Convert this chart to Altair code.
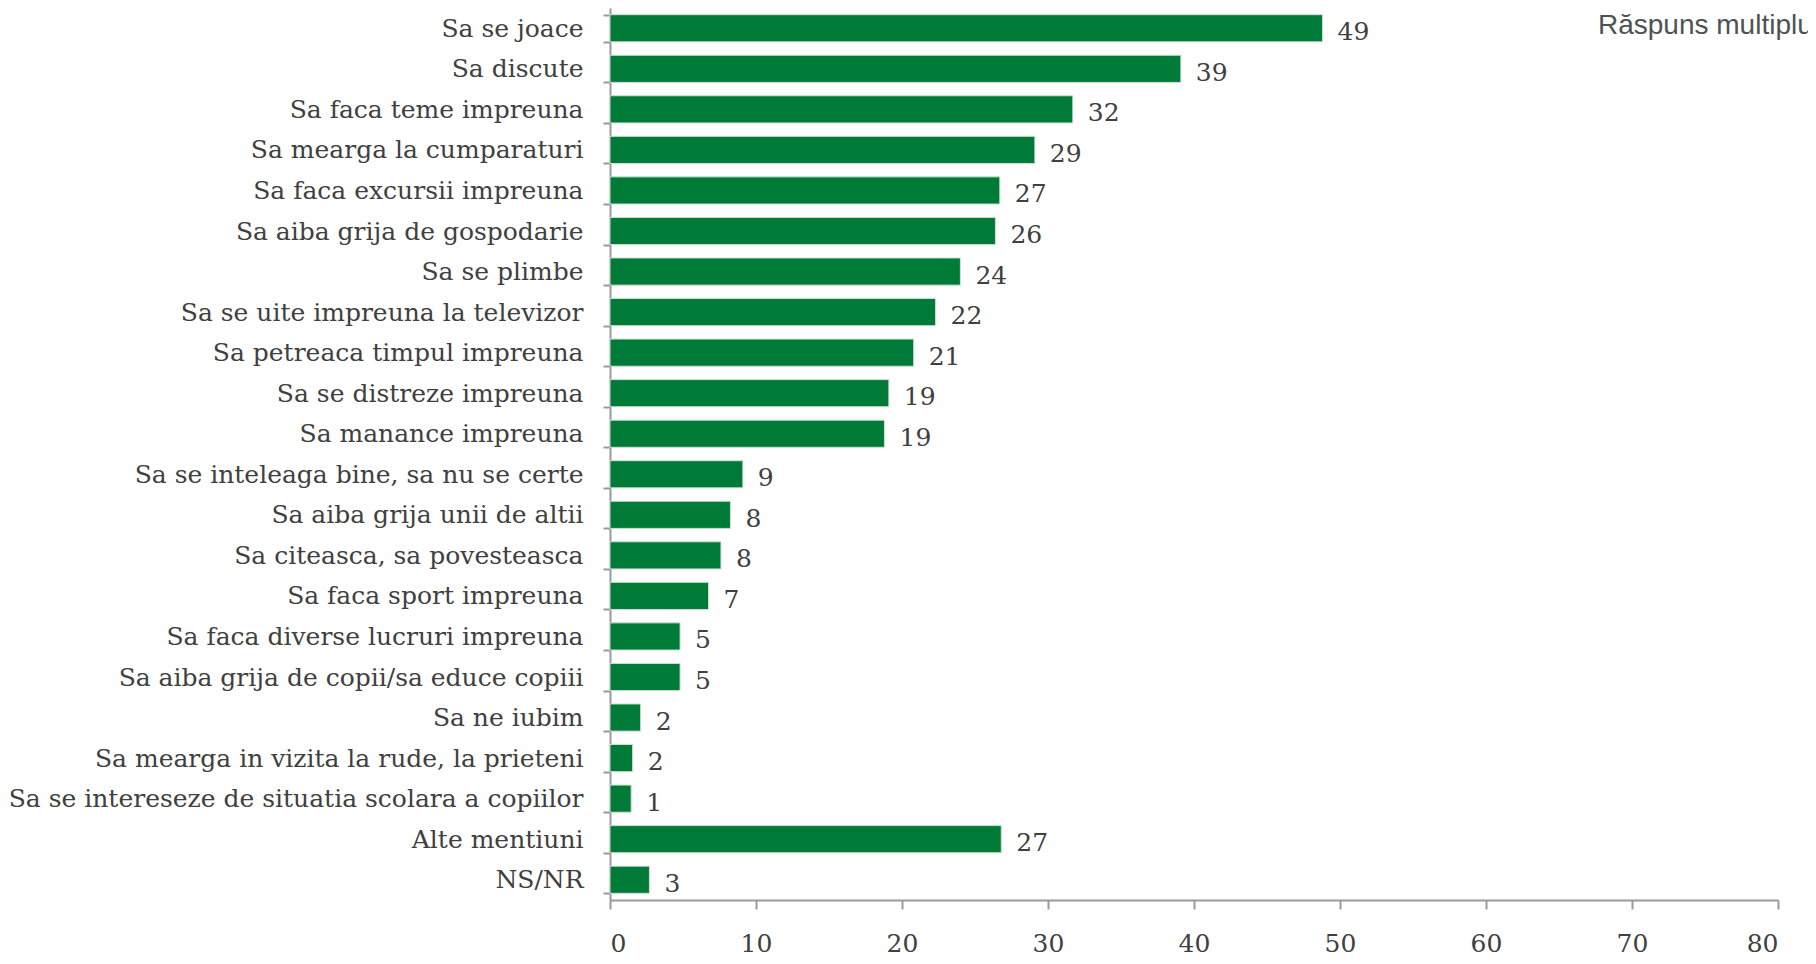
import altair as alt
import pandas as pd

categories = [
    "Sa se joace", "Sa discute", "Sa faca teme impreuna", "Sa mearga la cumparaturi",
    "Sa faca excursii impreuna", "Sa aiba grija de gospodarie", "Sa se plimbe",
    "Sa se uite impreuna la televizor", "Sa petreaca timpul impreuna",
    "Sa se distreze impreuna", "Sa manance impreuna",
    "Sa se inteleaga bine, sa nu se certe", "Sa aiba grija unii de altii",
    "Sa citeasca, sa povesteasca", "Sa faca sport impreuna",
    "Sa faca diverse lucruri impreuna", "Sa aiba grija de copii/sa educe copiii",
    "Sa ne iubim", "Sa mearga in vizita la rude, la prieteni",
    "Sa se intereseze de situatia scolara a copiilor", "Alte mentiuni", "NS/NR",
]
values = [48.8, 39.1, 31.7, 29.1, 26.7, 26.4, 24.0, 22.3, 20.8, 19.1, 18.8,
          9.1, 8.25, 7.6, 6.75, 4.8, 4.8, 2.1, 1.55, 1.45, 26.8, 2.7]
labels = [49, 39, 32, 29, 27, 26, 24, 22, 21, 19, 19, 9, 8, 8, 7, 5, 5, 2, 2, 1, 27, 3]
x_ticks = [0, 10, 20, 30, 40, 50, 60, 70, 80]
note = "Răspuns multiplu"

df = pd.DataFrame({"cat": categories, "val": values, "lab": [str(v) for v in labels]})

SERIF = "DejaVu Serif"
TXT = "#404040"
GREEN = "#007A37"

y = alt.Y("cat:N", sort=categories, title=None,
          scale=alt.Scale(paddingInner=0.33, paddingOuter=0.165),
          axis=alt.Axis(labelFont=SERIF, labelFontSize=25, labelColor=TXT,
                        labelPadding=20, tickBand="extent", tickSize=7,
                        tickColor="#9a9a9a", domainColor="#9a9a9a", domainWidth=2,
                        tickWidth=2, labelLimit=0))
x = alt.X("val:Q", title=None,
          scale=alt.Scale(domain=[0, 80], nice=False),
          axis=alt.Axis(values=x_ticks, labelFont=SERIF, labelFontSize=25,
                        labelColor=TXT, labelPadding=22, tickSize=9,
                        tickColor="#9a9a9a", domainColor="#9a9a9a", domainWidth=2,
                        tickWidth=2, grid=False))

bars = alt.Chart(df).mark_bar(color=GREEN, stroke="#cfe0d4", strokeWidth=1).encode(x=x, y=y)
text = alt.Chart(df).mark_text(align="left", baseline="middle", dx=15, dy=4,
                               font=SERIF, fontSize=25, color=TXT).encode(
    x="val:Q", y=alt.Y("cat:N", sort=categories), text="lab:N")

note_layer = alt.Chart(pd.DataFrame({"t": [note]})).mark_text(
    align="left", baseline="middle", font="Liberation Sans", fontSize=28,
    color="#4d5354").encode(x=alt.value(988), y=alt.value(18), text="t:N")

chart = alt.layer(bars, text, note_layer).properties(
    width=1168, height=892,
    autosize=alt.AutoSizeParams(type="none"),
    padding={"left": 602, "top": 0, "right": 30, "bottom": 56},
).configure_view(stroke=None)

chart.save("out.html", embed_options={"renderer": "svg", "actions": False})
